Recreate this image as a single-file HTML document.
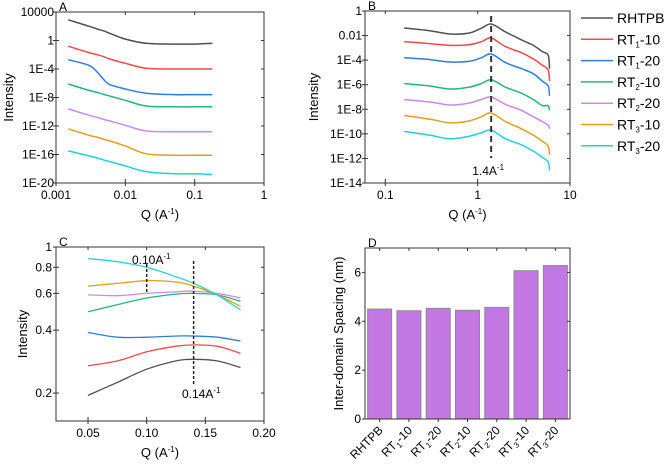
<!DOCTYPE html>
<html><head><meta charset="utf-8"><style>
body{margin:0;background:#fff;width:666px;height:465px;overflow:hidden}
svg{font-family:"Liberation Sans",sans-serif}
</style></head><body>
<svg id="fig" width="666" height="465" viewBox="0 0 666 465" xmlns="http://www.w3.org/2000/svg"></svg>
<script>
const seriesNames=["RHTPB","RT1-10","RT1-20","RT2-10","RT2-20","RT3-10","RT3-20"];
const colors=["#505050","#f24a4a","#2d7de0","#21b77a","#cc88ee","#e0a018","#22d0d8"];
// Panel A
const qA=[0.0015,0.003,0.004,0.005,0.006,0.01,0.02,0.05,0.1,0.18];
const logA=[
[2.9,2.0,1.6,1.3,1.0,0.2,-0.4,-0.5,-0.5,-0.4],
[-0.8,-1.7,-2.0,-2.3,-2.6,-3.2,-3.9,-4.0,-4.0,-4.0],
[-2.7,-3.5,-4.5,-5.6,-6.2,-6.8,-7.4,-7.6,-7.6,-7.6],
[-6.1,-7.0,-7.3,-7.6,-7.8,-8.4,-9.2,-9.3,-9.3,-9.3],
[-9.6,-10.5,-10.8,-11.1,-11.3,-11.9,-12.7,-12.8,-12.8,-12.8],
[-12.4,-13.3,-13.6,-13.9,-14.1,-14.8,-15.9,-16.1,-16.1,-16.1],
[-15.5,-16.2,-16.5,-16.8,-17.0,-17.6,-18.4,-18.7,-18.7,-18.8]];
const ticksA_y=["1E-20","1E-16","1E-12","1E-8","1E-4","1","10000"];
const ticksA_x=["0.001","0.01","0.1","1"];
// Panel B
const qB=[0.16,0.3,0.5,0.8,1.1,1.4,2,3,4,5,5.8,6];
const logB=[
[-1.38,-1.6,-1.87,-1.8,-1.4,-1.06,-1.7,-2.36,-2.8,-3.3,-3.6,-4.7],
[-2.5,-2.65,-2.8,-2.75,-2.5,-2.2,-2.9,-3.4,-3.9,-4.4,-4.8,-5.7],
[-3.8,-3.95,-4.15,-4.1,-3.8,-3.5,-4.2,-4.7,-5.1,-5.7,-6.1,-6.9],
[-5.9,-6.1,-6.35,-6.2,-5.9,-5.6,-6.2,-6.7,-7.2,-7.7,-7.7,-8.1],
[-7.2,-7.4,-7.65,-7.5,-7.2,-7.0,-7.6,-8.1,-8.6,-9.0,-9.3,-9.6],
[-8.5,-8.8,-9.1,-8.95,-8.6,-8.3,-9.0,-9.6,-10.1,-10.6,-11.0,-11.7],
[-9.8,-10.1,-10.4,-10.2,-9.9,-9.7,-10.4,-10.9,-11.4,-11.9,-12.3,-13.0]];
const ticksB_y=["1E-14","1E-12","1E-10","1E-8","1E-6","1E-4","0.01","1"];
const ticksB_x=["0.1","1","10"];
// Panel C
const qC=[0.05,0.075,0.1,0.125,0.14,0.16,0.18];
const valC=[
[0.195,0.225,0.26,0.285,0.29,0.285,0.265],
[0.27,0.285,0.315,0.335,0.34,0.335,0.31],
[0.39,0.37,0.37,0.375,0.375,0.37,0.355],
[0.49,0.53,0.57,0.595,0.60,0.59,0.55],
[0.59,0.585,0.60,0.61,0.615,0.60,0.57],
[0.65,0.67,0.69,0.68,0.65,0.59,0.52],
[0.88,0.85,0.80,0.72,0.67,0.59,0.50]];
const ticksC_y=[0.2,0.4,0.6,0.8,1];
const ticksC_x=[0.05,0.10,0.15,0.20];
// Panel D
const catD=["RHTPB","RT1-10","RT1-20","RT2-10","RT2-20","RT3-10","RT3-20"];
const valD=[4.5,4.43,4.53,4.45,4.57,6.07,6.28];
const ticksD_y=[0,2,4,6];

const NS="http://www.w3.org/2000/svg";
const fig=document.getElementById('fig');
function mk(tag,attrs,parent,text){const e=document.createElementNS(NS,tag);for(const k in attrs)e.setAttribute(k,attrs[k]);if(text!==undefined)e.textContent=text;(parent||fig).appendChild(e);return e;}
function logS(d0,d1,r0,r1){return v=>r0+(Math.log10(v)-d0)/(d1-d0)*(r1-r0);}
function linS(d0,d1,r0,r1){return v=>r0+(v-d0)/(d1-d0)*(r1-r0);}
function smooth(pts){ // catmull-rom to bezier
  let d='M'+pts[0][0].toFixed(1)+','+pts[0][1].toFixed(1);
  for(let i=0;i<pts.length-1;i++){
    const p0=pts[i-1]||pts[i],p1=pts[i],p2=pts[i+1],p3=pts[i+2]||p2;
    const c1=[p1[0]+(p2[0]-p0[0])/6,p1[1]+(p2[1]-p0[1])/6];
    const c2=[p2[0]-(p3[0]-p1[0])/6,p2[1]-(p3[1]-p1[1])/6];
    d+='C'+c1[0].toFixed(1)+','+c1[1].toFixed(1)+' '+c2[0].toFixed(1)+','+c2[1].toFixed(1)+' '+p2[0].toFixed(1)+','+p2[1].toFixed(1);
  }
  return d;}
function lab(s){return s.match(/^RT(\d)-(\d+)$/);}
function addLabel(g,x,y,s,attrs){
  const t=mk('text',Object.assign({x:x,y:y,'font-size':12},attrs||{}),g);
  const m=lab(s);
  if(m){mk('tspan',{},t,'RT');mk('tspan',{'font-size':8,dy:3},t,m[1]);mk('tspan',{dy:-3},t,'-'+m[2]);}
  else t.textContent=s;
  return t;}
function box(g,x0,y0,x1,y1){mk('rect',{x:x0,y:y0,width:x1-x0,height:y1-y0,fill:'none',stroke:'#333','stroke-width':1},g);}
function sup(g,x,y,base,anchor,size){const t=mk('text',{x:x,y:y,'font-size':size||12,'text-anchor':anchor||'start'},g);mk('tspan',{},t,base);mk('tspan',{'font-size':8,dy:-5},t,'-1');return t;}
function axTitle(g,x,y){sup(g,x,y,'Q (A','middle',13);const t=g.lastChild;mk('tspan',{dy:5},t,')');}

// ---------- Panel A
(function(){
const g=mk('g',{});
const X0=56,X1=264,Y0=12,Y1=183;
const xs=logS(-3,0,X0,X1), ys=logS(-20,4,Y1,Y0);
box(g,X0,Y0,X1,Y1);
mk('text',{x:X0+3,y:Y0-1,'font-size':12},g,'A');
ticksA_y.forEach((t,i)=>{const v=Number(t);const y=ys(v);
  mk('line',{x1:X0-3,x2:X0+3,y1:y,y2:y,stroke:'#333'},g);mk('line',{x1:X1-3,x2:X1,y1:y,y2:y,stroke:'#333'},g);
  mk('text',{x:X0-2,y:y+4,'font-size':12,'text-anchor':'end'},g,t);});
ticksA_x.forEach(t=>{const x=xs(Number(t));
  mk('line',{x1:x,x2:x,y1:Y1-4,y2:Y1+3,stroke:'#333'},g);mk('line',{x1:x,x2:x,y1:Y0,y2:Y0+3,stroke:'#333'},g);
  mk('text',{x:x,y:Y1+16,'font-size':12,'text-anchor':'middle'},g,t);});
mk('text',{x:13,y:(Y0+Y1)/2,'font-size':13,'text-anchor':'middle',transform:`rotate(-90 13 ${(Y0+Y1)/2})`},g,'Intensity');
axTitle(g,(X0+X1)/2,Y1+36);
logA.forEach((s,i)=>{const pts=s.map((v,j)=>[xs(qA[j]),ys(Math.pow(10,v))]);
  const p=mk('path',{d:smooth(pts),fill:'none',stroke:colors[i],'stroke-width':1.5},g);
  
  });
})();

// ---------- Panel B
(function(){
const g=mk('g',{});
const X0=365,X1=570,Y0=11,Y1=183;
const xs=logS(-1.22,1,X0,X1), ys=logS(-14,0,Y1,Y0);
box(g,X0,Y0,X1,Y1);
mk('text',{x:X0+3,y:Y0-1,'font-size':12},g,'B');
ticksB_y.forEach(t=>{const y=ys(Number(t));
  mk('line',{x1:X0-3,x2:X0+3,y1:y,y2:y,stroke:'#333'},g);mk('line',{x1:X1-3,x2:X1,y1:y,y2:y,stroke:'#333'},g);
  mk('text',{x:X0-3,y:y+4,'font-size':12,'text-anchor':'end'},g,t);});
ticksB_x.forEach(t=>{const x=xs(Number(t));
  mk('line',{x1:x,x2:x,y1:Y1-4,y2:Y1+3,stroke:'#333'},g);mk('line',{x1:x,x2:x,y1:Y0,y2:Y0+3,stroke:'#333'},g);
  mk('text',{x:x,y:Y1+16,'font-size':12,'text-anchor':'middle'},g,t);});
mk('text',{x:318,y:(Y0+Y1)/2,'font-size':13,'text-anchor':'middle',transform:`rotate(-90 318 ${(Y0+Y1)/2})`},g,'Intensity');
axTitle(g,(X0+X1)/2,Y1+36);
logB.forEach((s,i)=>{const pts=s.map((v,j)=>[xs(qB[j]),ys(Math.pow(10,v))]);
  const p=mk('path',{d:smooth(pts),fill:'none',stroke:colors[i],'stroke-width':1.5},g);
  
  });
const px=xs(1.4);
mk('line',{x1:px,x2:px,y1:16,y2:158,stroke:'#333','stroke-width':2,'stroke-dasharray':'6,4',},g);
sup(g,px-3,175,'1.4A','middle',12);
const lg=mk('g',{});
seriesNames.forEach((s,i)=>{const y=18+i*21.3;
  const e=mk('g',{},lg);
  
  
  mk('line',{x1:581,x2:613,y1:y,y2:y,stroke:colors[i],'stroke-width':1.5},e);
  addLabel(e,617,y+5,s,{'font-size':14});});
})();

// ---------- Panel C
(function(){
const g=mk('g',{});
const X0=56,X1=264,Y0=247,Y1=421;
const xs=linS(0.0227,0.20,X0,X1), ys=logS(Math.log10(0.147),0,Y1,Y0);
box(g,X0,Y0,X1,Y1);
mk('text',{x:X0+3,y:Y0-1,'font-size':12},g,'C');
ticksC_y.forEach(t=>{const y=ys(t);
  mk('line',{x1:X0-3,x2:X0+3,y1:y,y2:y,stroke:'#333'},g);mk('line',{x1:X1-3,x2:X1,y1:y,y2:y,stroke:'#333'},g);
  mk('text',{x:X0-4,y:y+4,'font-size':12,'text-anchor':'end'},g,String(t));});
ticksC_x.forEach(t=>{const x=xs(t);
  mk('line',{x1:x,x2:x,y1:Y1-4,y2:Y1+3,stroke:'#333'},g);mk('line',{x1:x,x2:x,y1:Y0,y2:Y0+3,stroke:'#333'},g);
  mk('text',{x:x,y:Y1+16,'font-size':12,'text-anchor':'middle'},g,t.toFixed(2));});
mk('text',{x:27,y:(Y0+Y1)/2,'font-size':13,'text-anchor':'middle',transform:`rotate(-90 27 ${(Y0+Y1)/2})`},g,'Intensity');
axTitle(g,(X0+X1)/2,Y1+36);
valC.forEach((s,i)=>{const pts=s.map((v,j)=>[xs(qC[j]),ys(v)]);
  const p=mk('path',{d:smooth(pts),fill:'none',stroke:colors[i],'stroke-width':1.3},g);
  
  });
mk('line',{x1:xs(0.10),x2:xs(0.10),y1:264,y2:292,stroke:'#222','stroke-width':1.5,'stroke-dasharray':'3,2',},g);
mk('line',{x1:xs(0.14),x2:xs(0.14),y1:261,y2:385,stroke:'#222','stroke-width':1.5,'stroke-dasharray':'3,2',},g);
sup(g,132,264,'0.10A','start',12);
sup(g,182,398,'0.14A','start',12);
})();

// ---------- Panel D
(function(){
const g=mk('g',{});
const X0=365,X1=570,Y0=248,Y1=419;
const ys=linS(0,7,Y1,Y0); const band=(X1-X0)/catD.length, bw=band*0.82;
valD.forEach((v,i)=>{const x=X0+i*band+(band-bw)/2;
  const r=mk('rect',{x:x,y:ys(v),width:bw,height:Y1-ys(v),fill:'#c277e3',stroke:'#8a8a8a','stroke-width':1},g);
  
  
  const cx=X0+i*band+band/2;
  mk('line',{x1:cx,x2:cx,y1:Y1,y2:Y1+3,stroke:'#333'},g);
  mk('line',{x1:cx,x2:cx,y1:Y0,y2:Y0+3,stroke:'#333'},g);
  addLabel(g,cx+4,Y1+12,catD[i],{'text-anchor':'end',transform:`rotate(-45 ${cx+4} ${Y1+12})`});});
box(g,X0,Y0,X1,Y1);
mk('text',{x:X0+3,y:Y0-1,'font-size':12},g,'D');
ticksD_y.forEach(t=>{const y=ys(t);
  mk('line',{x1:X0-3,x2:X0,y1:y,y2:y,stroke:'#333'},g);mk('line',{x1:X1-3,x2:X1,y1:y,y2:y,stroke:'#333'},g);
  mk('text',{x:X0-4,y:y+4,'font-size':12,'text-anchor':'end'},g,String(t));});
mk('text',{x:343,y:(Y0+Y1)/2,'font-size':13,'text-anchor':'middle',transform:`rotate(-90 343 ${(Y0+Y1)/2})`},g,'Inter-domain Spacing (nm)');
})();
</script>
</body></html>
